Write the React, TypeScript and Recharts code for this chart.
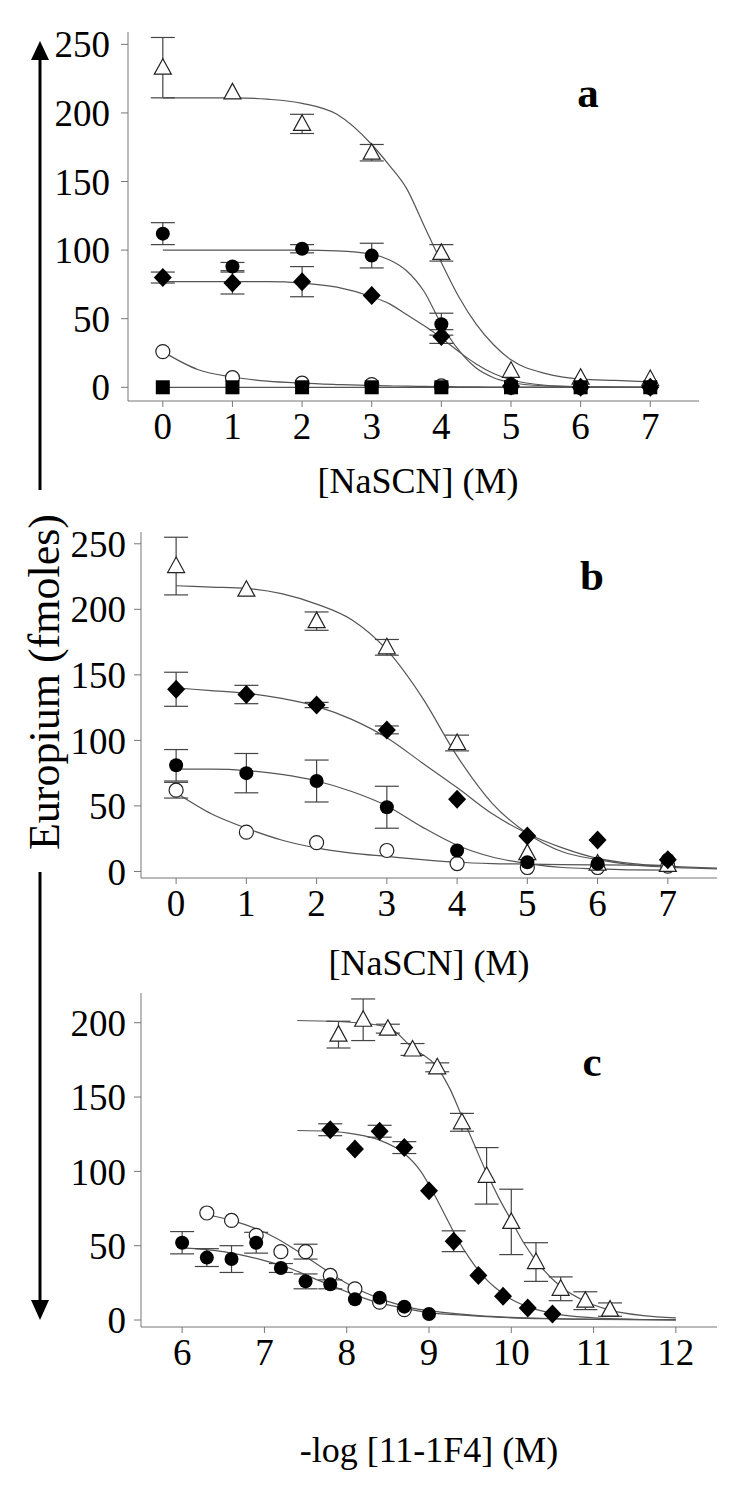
import React from "react";
import { ComposedChart, Line, Scatter, XAxis, YAxis, ErrorBar } from "recharts";

// ---- panel a: [NaSCN] elution, x = 0..7 M ----
const aX = [0, 1, 2, 3, 4, 5, 6, 7];
const aTri = [233, 215, 192, 171, 98, 12, 7, 6];
const aTriErr = [22, null, 7, 6, 6, null, null, null];
const aDot = [112, 88, 101, 96, 46, 2, 0, 0];
const aDotErr = [8, 3, 3, 9, 8, null, null, null];
const aDia = [80, 76, 77, 67, 37, 1, 0, 0];
const aDiaErr = [4, 8, 11, null, 5, null, null, null];
const aRing = [26, 7, 3, 2, 1, 0, 0, 0];
const aSq = [0, 0, 0, 0, 0, 0, 0, 0];

const aFitX = [0, 0.5, 1, 1.5, 2, 2.5, 3, 3.25, 3.5, 3.75, 4, 4.25, 4.5, 4.75, 5, 5.5, 6, 6.5, 7];
const aTriFit = [211, 211, 211, 210, 207, 199, 177, 162, 145, 118, 91, 66, 46, 31, 20, 10, 6, 5, 4];
const aDotFit = [100, 100, 100, 100, 100, 99.5, 97, 93, 85, 70, 46, 27, 14, 7, 3.5, 1, 0.3, 0.1, 0];
const aDiaFit = [77, 77, 77, 77, 76, 73, 66, 61, 53, 45, 36, 26, 17, 10, 5.5, 1.5, 0.5, 0.2, 0];
const aRingFit = [26, 13, 7.5, 4.5, 3, 2, 1.2, 1, 0.8, 0.6, 0.5, 0.4, 0.3, 0.2, 0.2, 0.1, 0, 0, 0];
const aSqFit = [0, 0, 0, 0, 0, 0, 0, 0, 0, 0, 0, 0, 0, 0, 0, 0, 0, 0, 0];

// ---- panel b ----
const bX = [0, 1, 2, 3, 4, 5, 6, 7];
const bTri = [233, 215, 191, 171, 98, 14, 6, 5];
const bTriErr = [22, null, 7, 6, 6, null, null, null];
const bDia = [139, 135, 127, 108, 55, 27, 24, 9];
const bDiaErr = [13, 7, 2, 3, null, null, null, null];
const bDot = [81, 75, 69, 49, 16, 7, 6, 9];
const bDotErr = [12, 15, 16, 16, null, null, null, null];
const bRing = [62, 30, 22, 16, 6, 3, 3, 4];
const bRingErr = [6, null, null, null, null, null, null, null];

const bFitX = [0, 0.5, 1, 1.5, 2, 2.5, 3, 3.5, 4, 4.5, 5, 5.5, 6, 6.5, 7, 7.7];
const bTriFit = [218, 217, 216, 212, 204, 192, 169, 133, 88, 52, 29, 15, 9, 5, 3.3, 2];
const bDiaFit = [140, 138, 136, 132, 126, 116, 102, 83, 64, 44, 29, 18, 10, 6, 4, 2.5];
const bDotFit = [78, 78, 77, 74, 69, 61, 50, 34, 20, 11, 6, 3, 2, 1.2, 1, null];
const bRingFit = [60, 44, 33, 24, 18, 14, 11.5, 9, 7, 6, 5.6, 5.2, 5, 4.8, 4.6, null];

// ---- panel c: -log [11-1F4] ----
const cTriX = [7.9, 8.2, 8.5, 8.8, 9.1, 9.4, 9.7, 10.0, 10.3, 10.6, 10.9, 11.2];
const cTri = [192, 202, 196, 182, 170, 133, 97, 66, 39, 21, 13, 7];
const cTriErr = [9, 14, 3, 4, 3, 6, 19, 22, 13, 8, 6, 4.5];
const cDiaX = [7.8, 8.1, 8.4, 8.7, 9.0, 9.3, 9.6, 9.9, 10.2, 10.5];
const cDia = [128, 115, 127, 116, 87, 53, 30, 16, 8, 4];
const cDiaErr = [4, null, 4, 4, null, 7, null, null, null, null];
const cDotX = [6.0, 6.3, 6.6, 6.9, 7.2, 7.5, 7.8, 8.1, 8.4, 8.7, 9.0];
const cDot = [52, 42, 41, 52, 35, 26, 24, 14, 15, 9, 4];
const cDotErr = [7.5, 6, 9, 7, 3, 5, 3, null, null, null, null];
const cRingX = [6.3, 6.6, 6.9, 7.2, 7.5, 7.8, 8.1, 8.4, 8.7];
const cRing = [72, 67, 57, 46, 46, 30, 21, 12, 7];
const cRingErr = [null, null, null, null, 5, null, null, null, null];

const cTriFitX = [7.4, 8, 8.5, 8.8, 9.1, 9.25, 9.4, 9.55, 9.7, 9.85, 10, 10.15, 10.3, 10.6, 10.9, 11.2, 11.6, 12];
const cTriFit = [201.5, 200.5, 197, 183, 170, 156, 137, 118, 99, 82, 67, 52, 40, 22.5, 12.5, 6.7, 3, 1.5];
const cDiaFitX = [7.4, 7.8, 8.1, 8.4, 8.7, 8.9, 9.05, 9.2, 9.35, 9.5, 9.65, 9.8, 10, 10.25, 10.5, 11, 11.5, 12];
const cDiaFit = [127.5, 127, 125, 121, 112, 100, 86, 70, 54, 41, 30, 22, 14, 8, 4.5, 1.5, 0.5, 0.2];
const cDotFitX = [6, 6.5, 7, 7.3, 7.6, 8, 8.3, 8.6, 9, 9.5, 10, 10.5, 11, 12];
const cDotFit = [48.5, 46, 40, 35, 28, 19, 13, 9, 5, 3, 1.5, 0.8, 0.4, 0.1];
const cRingFitX = [6.3, 6.6, 7, 7.3, 7.6, 7.9, 8.2, 8.5, 8.8, 9.2, 9.6, 10, 11, 12];
const cRingFit = [70.8, 67, 59, 50, 39, 28, 19, 12.5, 8, 5, 3, 1.8, 0.5, 0.1];

const abTicks = [0, 1, 2, 3, 4, 5, 6, 7];
const cTicks = [6, 7, 8, 9, 10, 11, 12];
const abYTicks = [0, 50, 100, 150, 200, 250];
const cYTicks = [0, 50, 100, 150, 200];

const serif = '"Liberation Serif", "Times New Roman", serif';
const AXIS = "#777";
const CURVE = "#555";
const FONT = 37;

const pts = (xs: number[], ys: (number | null)[], errs?: (number | null)[]) =>
  xs.map((x, i) => ({ x, y: ys[i], err: errs && errs[i] != null ? errs[i] : undefined }));

const Tri = (p: any) =>
  p.cx == null ? null : (
    <polygon
      points={`${p.cx},${p.cy - 9} ${p.cx - 8.5},${p.cy + 6.5} ${p.cx + 8.5},${p.cy + 6.5}`}
      fill="#fff"
      stroke="#222"
      strokeWidth={1.2}
    />
  );
const Dot = (p: any) => (p.cx == null ? null : <circle cx={p.cx} cy={p.cy} r={7} fill="#000" />);
const Ring = (p: any) =>
  p.cx == null ? null : <circle cx={p.cx} cy={p.cy} r={7} fill="#fff" stroke="#222" strokeWidth={1.2} />;
const Dia = (p: any) =>
  p.cx == null ? null : (
    <polygon
      points={`${p.cx},${p.cy - 9.5} ${p.cx + 9},${p.cy} ${p.cx},${p.cy + 9.5} ${p.cx - 9},${p.cy}`}
      fill="#000"
    />
  );
const Sq = (p: any) =>
  p.cx == null ? null : <rect x={p.cx - 7} y={p.cy - 7} width={14} height={14} fill="#000" />;

type Series = { data: any[]; shape: any };

type PanelProps = {
  top: number;
  height: number;
  margin: { top: number; right: number; left: number; bottom: number };
  xDomain: [number, number];
  xTicks: number[];
  yDomain: [number, number];
  yTicks: number[];
  xHeight: number;
  yGap: number;
  fits: any[][];
  series: Series[];
};

function Panel(props: PanelProps) {
  const tick = { fill: "#000", fontSize: FONT, fontFamily: serif };
  return (
    <div style={{ position: "absolute", left: 0, top: props.top }}>
      <ComposedChart width={750} height={props.height} margin={props.margin}>
        <XAxis
          type="number"
          dataKey="x"
          domain={props.xDomain}
          ticks={props.xTicks}
          allowDataOverflow
          height={props.xHeight}
          stroke={AXIS}
          tickSize={6}
          tickMargin={6}
          tick={tick}
        />
        <YAxis
          type="number"
          dataKey="y"
          domain={props.yDomain}
          ticks={props.yTicks}
          allowDataOverflow
          width={80}
          stroke={AXIS}
          tickSize={7}
          tickMargin={props.yGap}
          tick={tick}
        />
        {props.fits.map((d, i) => (
          <Line
            key={`fit-${i}`}
            data={d}
            dataKey="y"
            type="monotone"
            stroke={CURVE}
            strokeWidth={1.2}
            dot={false}
            activeDot={false}
            isAnimationActive={false}
          />
        ))}
        {props.series.map((s, i) => (
          <Scatter key={`pts-${i}`} data={s.data} shape={s.shape} isAnimationActive={false}>
            <ErrorBar dataKey="err" direction="y" width={12} stroke="#444" strokeWidth={1.2} />
          </Scatter>
        ))}
      </ComposedChart>
    </div>
  );
}

export default function App() {
  return (
    <div style={{ position: "absolute", left: 0, top: 0, width: 750, height: 1488, background: "#fff" }}>
      <Panel
        top={0}
        height={500}
        margin={{ top: 32, right: 51, left: 48, bottom: 0 }}
        xDomain={[-0.5, 7.7]}
        xTicks={abTicks}
        yDomain={[-10, 259]}
        yTicks={abYTicks}
        xHeight={99}
        yGap={11}
        fits={[
          pts(aFitX, aTriFit),
          pts(aFitX, aDotFit),
          pts(aFitX, aDiaFit),
          pts(aFitX, aRingFit),
          pts(aFitX, aSqFit),
        ]}
        series={[
          { data: pts(aX, aRing), shape: Ring },
          { data: pts(aX, aTri, aTriErr), shape: Tri },
          { data: pts(aX, aDot, aDotErr), shape: Dot },
          { data: pts(aX, aDia, aDiaErr), shape: Dia },
          { data: pts(aX, aSq), shape: Sq },
        ]}
      />
      <Panel
        top={500}
        height={480}
        margin={{ top: 32, right: 33, left: 61, bottom: 0 }}
        xDomain={[-0.5, 7.7]}
        xTicks={abTicks}
        yDomain={[-5, 259]}
        yTicks={abYTicks}
        xHeight={102}
        yGap={8}
        fits={[pts(bFitX, bTriFit), pts(bFitX, bDiaFit), pts(bFitX, bDotFit), pts(bFitX, bRingFit)]}
        series={[
          { data: pts(bX, bRing, bRingErr), shape: Ring },
          { data: pts(bX, bTri, bTriErr), shape: Tri },
          { data: pts(bX, bDia, bDiaErr), shape: Dia },
          { data: pts(bX, bDot, bDotErr), shape: Dot },
        ]}
      />
      <Panel
        top={980}
        height={508}
        margin={{ top: 13, right: 33, left: 61, bottom: 0 }}
        xDomain={[5.5, 12.5]}
        xTicks={cTicks}
        yDomain={[-4.7, 220]}
        yTicks={cYTicks}
        xHeight={161}
        yGap={8}
        fits={[
          pts(cTriFitX, cTriFit),
          pts(cDiaFitX, cDiaFit),
          pts(cDotFitX, cDotFit),
          pts(cRingFitX, cRingFit),
        ]}
        series={[
          { data: pts(cRingX, cRing, cRingErr), shape: Ring },
          { data: pts(cTriX, cTri, cTriErr), shape: Tri },
          { data: pts(cDotX, cDot, cDotErr), shape: Dot },
          { data: pts(cDiaX, cDia, cDiaErr), shape: Dia },
        ]}
      />
      <svg
        width={750}
        height={1488}
        style={{ position: "absolute", left: 0, top: 0, pointerEvents: "none" }}
      >
        <line x1={40} y1={58} x2={40} y2={490} stroke="#000" strokeWidth={3} />
        <polygon points="40,41 31,60 49,60" fill="#000" />
        <line x1={40} y1={872} x2={40} y2={1302} stroke="#000" strokeWidth={3} />
        <polygon points="40,1320 31,1300 49,1300" fill="#000" />
        <text
          x={44}
          y={682}
          transform="rotate(-90 44 682)"
          textAnchor="middle"
          dominantBaseline="central"
          fontFamily={serif}
          fontSize={44}
        >
          Europium (fmoles)
        </text>
        <g fontFamily={serif} fontSize={36} textAnchor="middle">
          <text x={418} y={493}>[NaSCN] (M)</text>
          <text x={429} y={975}>[NaSCN] (M)</text>
          <text x={429} y={1462}>-log [11-1F4] (M)</text>
        </g>
        <g fontFamily={serif} fontSize={43} fontWeight="bold" textAnchor="middle">
          <text x={588} y={107}>a</text>
          <text x={592} y={590}>b</text>
          <text x={592} y={1076}>c</text>
        </g>
      </svg>
    </div>
  );
}
